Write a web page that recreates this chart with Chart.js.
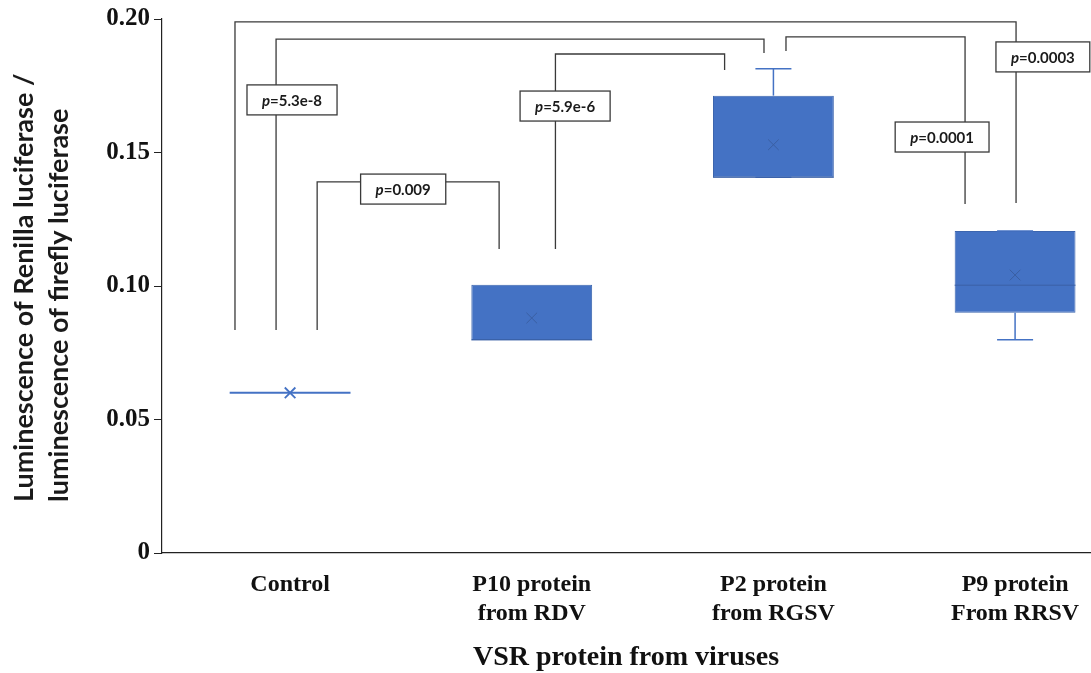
<!DOCTYPE html>
<html>
<head>
<meta charset="utf-8">
<script src="https://cdn.jsdelivr.net/npm/chart.js@4/dist/chart.umd.min.js"></script>
<style>
  html, body { margin: 0; padding: 0; background: #fff; }
  #wrap { width: 1091px; height: 673px; }
</style>
</head>
<body>
<div id="wrap"><canvas id="boxChart"></canvas></div>
<script>
// --- DATA ---
const categories = [['Control'], ['P10 protein', 'from RDV'], ['P2 protein', 'from RGSV'], ['P9 protein', 'From RRSV']];
const q1Values = [0.0600, 0.0798, 0.1407, 0.0900];
const q3Values = [0.0600, 0.1005, 0.1713, 0.1206];
const medianValues = [0.0600, 0.0798, 0.1407, 0.1003];
const minValues = [0.0600, 0.0798, 0.1407, 0.0799];
const maxValues = [0.0600, 0.1005, 0.1814, 0.1206];
const meanValues = [0.0600, 0.0880, 0.1529, 0.1041];
const yTicks = [0, 0.05, 0.10, 0.15, 0.20];
const yTitleLines = ['Luminescence of Renilla luciferase /', 'luminescence of firefly luciferase'];

// significance brackets (x in category units, y in data units)
const pLabels = ['0.0003', '5.3e-8', '0.0001', '5.9e-6', '0.009'];
const bracketFrom = [-0.228, -0.058, 2.052, 1.098, 0.112];
const bracketTo = [3.004, 1.961, 2.793, 1.798, 0.865];
const bracketTop = [0.1989, 0.1925, 0.1933, 0.1869, 0.1390];
const bracketLeftEnd = [0.0835, 0.0835, 0.1880, 0.1139, 0.0835];
const bracketRightEnd = [0.1311, 0.1873, 0.1307, 0.1809, 0.1139];
const pLabelX = [3.115, 0.008, 2.698, 1.138, 0.468];
const pLabelY = [0.1858, 0.1697, 0.1558, 0.1674, 0.1363];

const BLUE = '#4472C4';

// whiskers, medians and p-value brackets
const boxExtras = {
    id: 'boxExtras',
    afterDatasetsDraw(chart) {
        const { ctx, scales: { x, y } } = chart;
        const bars = chart.getDatasetMeta(0).data;
        ctx.save();
        bars.forEach((bar, i) => {
            const cx = bar.x;
            const half = bar.width / 2;
            const cap = 18;
            ctx.strokeStyle = BLUE;
            ctx.lineWidth = 1.5;
            ctx.beginPath();
            ctx.moveTo(cx, y.getPixelForValue(q3Values[i]));
            ctx.lineTo(cx, y.getPixelForValue(maxValues[i]));
            ctx.moveTo(cx, y.getPixelForValue(q1Values[i]));
            ctx.lineTo(cx, y.getPixelForValue(minValues[i]));
            ctx.stroke();
            if (maxValues[i] > q3Values[i] || minValues[i] < q1Values[i]) {
                ctx.beginPath();
                ctx.moveTo(cx - cap, y.getPixelForValue(maxValues[i]));
                ctx.lineTo(cx + cap, y.getPixelForValue(maxValues[i]));
                ctx.moveTo(cx - cap, y.getPixelForValue(minValues[i]));
                ctx.lineTo(cx + cap, y.getPixelForValue(minValues[i]));
                ctx.stroke();
            }
            // median
            ctx.strokeStyle = i === 0 ? BLUE : '#3A60A6';
            ctx.lineWidth = i === 0 ? 2 : 1;
            const my = y.getPixelForValue(medianValues[i]);
            ctx.beginPath();
            ctx.moveTo(cx - half, my);
            ctx.lineTo(cx + half, my);
            ctx.stroke();
        });

        // brackets
        ctx.strokeStyle = '#3a3a3a';
        ctx.lineWidth = 1.3;
        pLabels.forEach((lab, i) => {
            const x1 = x.getPixelForValue(bracketFrom[i]);
            const x2 = x.getPixelForValue(bracketTo[i]);
            const yt = y.getPixelForValue(bracketTop[i]);
            ctx.beginPath();
            ctx.moveTo(x1, y.getPixelForValue(bracketLeftEnd[i]));
            ctx.lineTo(x1, yt);
            ctx.lineTo(x2, yt);
            ctx.lineTo(x2, y.getPixelForValue(bracketRightEnd[i]));
            ctx.stroke();
        });

        // label boxes
        pLabels.forEach((lab, i) => {
            const lx = x.getPixelForValue(pLabelX[i]);
            const ly = y.getPixelForValue(pLabelY[i]);
            ctx.font = 'italic bold 15px Lato';
            const wP = ctx.measureText('p').width;
            ctx.font = 'bold 15px Lato';
            const wRest = ctx.measureText('=' + lab).width;
            const tw = wP + wRest;
            const bw = tw + 30, bh = 30;
            ctx.fillStyle = '#fff';
            ctx.fillRect(lx - bw / 2, ly - bh / 2, bw, bh);
            ctx.strokeRect(lx - bw / 2, ly - bh / 2, bw, bh);
            ctx.fillStyle = '#1a1a1a';
            ctx.textBaseline = 'middle';
            ctx.textAlign = 'left';
            ctx.font = 'italic bold 15px Lato';
            ctx.fillText('p', lx - tw / 2, ly + 1);
            ctx.font = 'bold 15px Lato';
            ctx.fillText('=' + lab, lx - tw / 2 + wP, ly + 1);
        });
        ctx.restore();
    },
    afterDraw(chart) {
        // y-axis title, two start-aligned lines
        const { ctx } = chart;
        ctx.save();
        ctx.fillStyle = '#1a1a1a';
        ctx.font = 'bold 27px Lato';
        ctx.textAlign = 'left';
        ctx.textBaseline = 'alphabetic';
        [33, 68].forEach((bx, i) => {
            ctx.save();
            ctx.translate(bx, 502);
            ctx.rotate(-Math.PI / 2);
            ctx.fillText(yTitleLines[i], 0, 0);
            ctx.restore();
        });
        ctx.restore();
    }
};

const ctx = document.getElementById('boxChart').getContext('2d');

new Chart(ctx, {
    type: 'bar',
    data: {
        datasets: [{
            label: 'IQR',
            data: categories.map((c, i) => ({ x: i, y: [q1Values[i], q3Values[i]] })),
            backgroundColor: BLUE,
            borderColor: '#3C65AE',
            borderWidth: 1,
            borderSkipped: false,
            barPercentage: 0.5,
            categoryPercentage: 1.0,
            order: 2
        }, {
            type: 'scatter',
            label: 'Mean',
            data: categories.map((c, i) => ({ x: i, y: meanValues[i] })),
            pointStyle: 'crossRot',
            pointRadius: 7.5,
            pointBorderColor: meanValues.map((v, i) => i === 0 ? BLUE : '#3A5FA3'),
            pointBorderWidth: meanValues.map((v, i) => i === 0 ? 1.8 : 1),
            order: 1
        }]
    },
    options: {
        responsive: true,
        maintainAspectRatio: false,
        animation: false,
        layout: { autoPadding: false, padding: { top: 19, right: 1, left: 0, bottom: 0 } },
        plugins: {
            legend: { display: false },
            tooltip: { enabled: false }
        },
        scales: {
            x: {
                type: 'linear',
                min: -0.53,
                max: 3.31,
                offset: false,
                grid: { display: false, drawTicks: false },
                border: { display: true, color: '#222', width: 1.2 },
                afterBuildTicks: (scale) => { scale.ticks = categories.map((c, i) => ({ value: i })); },
                afterFit: (scale) => {
                    scale.height = 120;
                    scale.paddingLeft = 0;
                    scale.paddingRight = 0;
                },
                ticks: {
                    autoSkip: false,
                    maxRotation: 0,
                    padding: 17,
                    color: '#111',
                    font: { family: '"Liberation Serif"', size: 24, weight: 'bold', lineHeight: 1.22 },
                    callback: (v) => categories[v]
                },
                title: {
                    display: true,
                    text: 'VSR protein from viruses',
                    color: '#111',
                    padding: { top: 0, bottom: 0 },
                    font: { family: '"Liberation Serif"', size: 28, weight: 'bold', lineHeight: 1.1 }
                }
            },
            y: {
                min: 0,
                max: 0.2,
                afterBuildTicks: (scale) => { scale.ticks = yTicks.map(v => ({ value: v })); },
                afterFit: (scale) => { scale.width = 162; },
                grid: { drawOnChartArea: false, drawTicks: true, tickLength: 8, color: '#222' },
                border: { display: true, color: '#222', width: 1.2 },
                ticks: {
                    padding: 4,
                    color: '#111',
                    font: { family: '"Liberation Serif"', size: 25, weight: 'bold' },
                    callback: (v) => v === 0 ? '0' : v.toFixed(2)
                }
            }
        }
    },
    plugins: [boxExtras]
});
</script>
</body>
</html>
